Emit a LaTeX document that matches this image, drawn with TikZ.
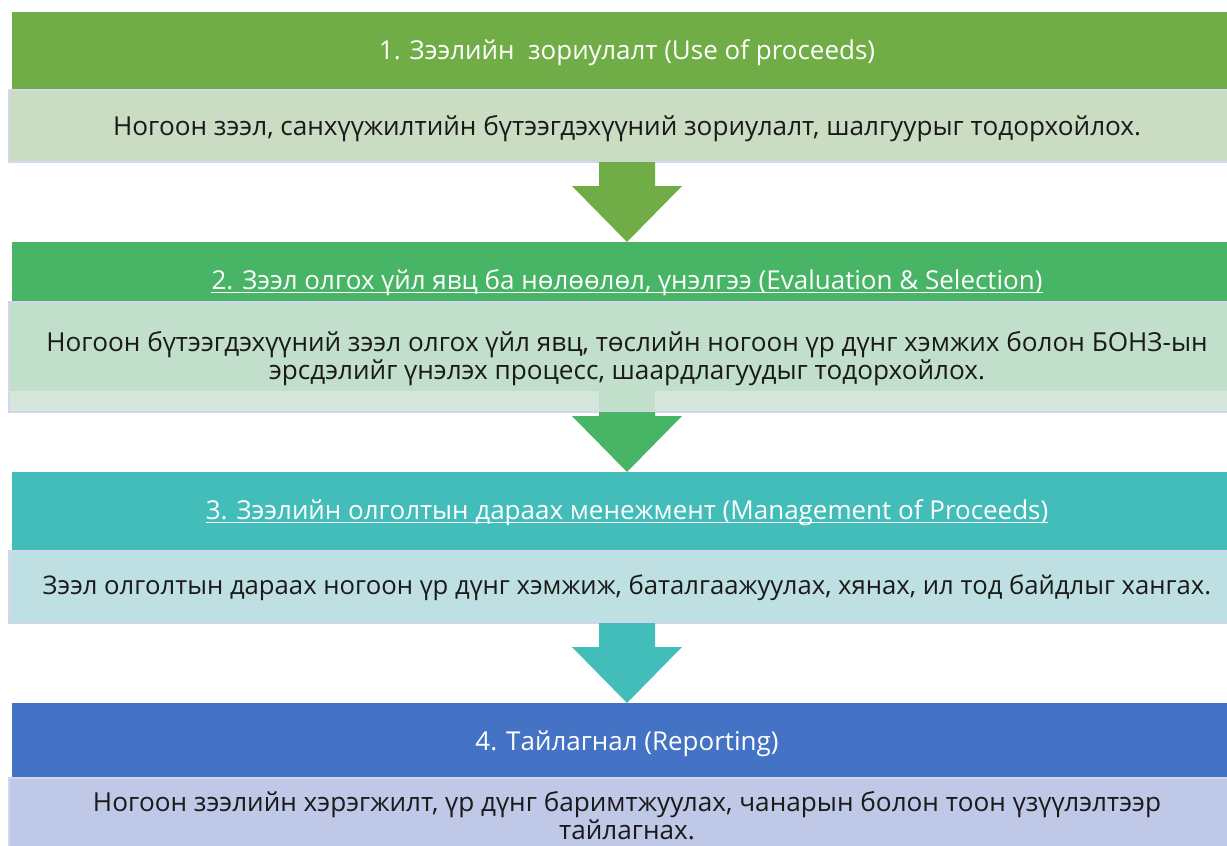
\documentclass[tikz,border=0pt]{standalone}
\usepackage{fontspec}
\setmainfont{Open Sans}
\usetikzlibrary{calc}
\definecolor{hA}{HTML}{70AD47}
\definecolor{bA}{HTML}{CADDC3}
\definecolor{hB}{HTML}{47B565}
\definecolor{bB}{HTML}{C2DFCC}
\definecolor{bBl}{HTML}{D3E8DB}
\definecolor{hC}{HTML}{43BDB9}
\definecolor{bC}{HTML}{BFE0E2}
\definecolor{hD}{HTML}{4472C4}
\definecolor{bD}{HTML}{BFC8E6}
\definecolor{edgec}{HTML}{D2D6EE}
\definecolor{txt}{HTML}{1A1A1A}
\newlength\calw
\begin{document}
\settowidth\calw{\fontsize{10pt}{12pt}\selectfont Ногоон зээл, санхүүжилтийн бүтээгдэхүүний зориулалт, шалгуурыг тодорхойлох.}%
\pgfmathsetmacro\bsz{10*1028/\calw}%
\pgfmathsetmacro\bszs{0.982*\bsz}%
\settowidth\calw{\fontsize{10pt}{12pt}\selectfont 2. Зээл олгох үйл явц ба нөлөөлөл, үнэлгээ (Evaluation \& Selection)}%
\pgfmathsetmacro\hsz{10*831/\calw}%
\pgfmathsetmacro\hbl{1.2*\hsz}%
\begin{tikzpicture}[x=1pt,y=-1pt]
\tikzset{
  box/.style={anchor=north west, inner sep=0, outer sep=0, rectangle, minimum width=#1},
  hdr/.style={box=1230, draw=none},
  bdy/.style={box=1236, draw=edgec, line width=1.2pt},
  htext/.style={inner sep=0, text=white, font=\fontsize{\hsz pt}{\hbl pt}\selectfont},
  btext/.style={inner sep=0, text=txt, align=center, font=\fontsize{\bsz pt}{28pt}\selectfont},
  btextsmall/.style={btext, font=\fontsize{\bszs pt}{28pt}\selectfont},
  uline/.style={draw=white, line width=0.9pt},
}
\useasboundingbox (0,0) rectangle (1227,846);
\fill[white] (0,0) rectangle (1227,846);

% band 1
\node[hdr, fill=hA, minimum height=78] (h1) at (12,12) {};
\node[bdy, fill=bA, minimum height=72] (b1) at (9,90) {};
\node[htext] (t1) at (627,53) {1. Зээлийн\ \ зориулалт (Use of proceeds)};
\node[btext] (tb1) at (627,129) {Ногоон зээл, санхүүжилтийн бүтээгдэхүүний зориулалт, шалгуурыг тодорхойлох.};

% band 2
\node[hdr, fill=hB, minimum height=62] (h2) at (12,242) {};
\node[bdy, fill=bBl, minimum height=110] (b2) at (9,302) {};
\fill[bB] ($(b2.north west)+(0.6,0.6)$) rectangle ($(b2.north east)+(-0.6,89)$);
\node[htext] (t2) at (627,283) {2. Зээл олгох үйл явц ба нөлөөлөл, үнэлгээ (Evaluation \& Selection)};
\draw[uline] ($(t2.base west)+(0,2.5)$) -- ($(t2.base east)+(0,2.5)$);
\node[btext] (tb2) at (627,359) {Ногоон бүтээгдэхүүний зээл олгох үйл явц, төслийн ногоон үр дүнг хэмжих болон БОНЗ-ын\\эрсдэлийг үнэлэх процесс, шаардлагуудыг тодорхойлох.};

% band 3
\node[hdr, fill=hC, minimum height=79] (h3) at (12,472) {};
\node[bdy, fill=bC, minimum height=72] (b3) at (9,551) {};
\node[htext] (t3) at (627,513) {3. Зээлийн олголтын дараах менежмент (Management of Proceeds)};
\draw[uline] ($(t3.base west)+(0,2.5)$) -- ($(t3.base east)+(0,2.5)$);
\node[btextsmall] (tb3) at (627,588) {Зээл олголтын дараах ногоон үр дүнг хэмжиж, баталгаажуулах, хянах, ил тод байдлыг хангах.};

% band 4
\node[hdr, fill=hD, minimum height=75] (h4) at (12,703) {};
\node[bdy, fill=bD, minimum height=72] (b4) at (9,778) {};
\node[htext] (t4) at (627,744) {4. Тайлагнал (Reporting)};
\node[btext] (tb4) at (627,816) {Ногоон зээлийн хэрэгжилт, үр дүнг баримтжуулах, чанарын болон тоон үзүүлэлтээр\\тайлагнах.};

% arrows
\coordinate (a1) at (b1.south -| t1.center);
\coordinate (a1t) at (h2.north -| t1.center);
\fill[hA] ($(a1)+(-28,0)$) -- ($(a1)+(28,0)$) -- ($(a1)+(28,24)$) -- ($(a1)+(55,24)$) -- (a1t) -- ($(a1)+(-55,24)$) -- ($(a1)+(-28,24)$) -- cycle;

\coordinate (a2) at (b2.south -| t2.center);
\coordinate (a2t) at (h3.north -| t2.center);
\fill[bB] ($(a2)+(-28,-21)$) rectangle ($(a2)+(28,-1.2)$);
\fill[hB] ($(a2)+(-28,0)$) -- ($(a2)+(28,0)$) -- ($(a2)+(28,4)$) -- ($(a2)+(55,4)$) -- (a2t) -- ($(a2)+(-55,4)$) -- ($(a2)+(-28,4)$) -- cycle;

\coordinate (a3) at (b3.south -| t3.center);
\coordinate (a3t) at (h4.north -| t3.center);
\fill[hC] ($(a3)+(-28,0)$) -- ($(a3)+(28,0)$) -- ($(a3)+(28,24)$) -- ($(a3)+(55,24)$) -- (a3t) -- ($(a3)+(-55,24)$) -- ($(a3)+(-28,24)$) -- cycle;
\end{tikzpicture}
\end{document}
